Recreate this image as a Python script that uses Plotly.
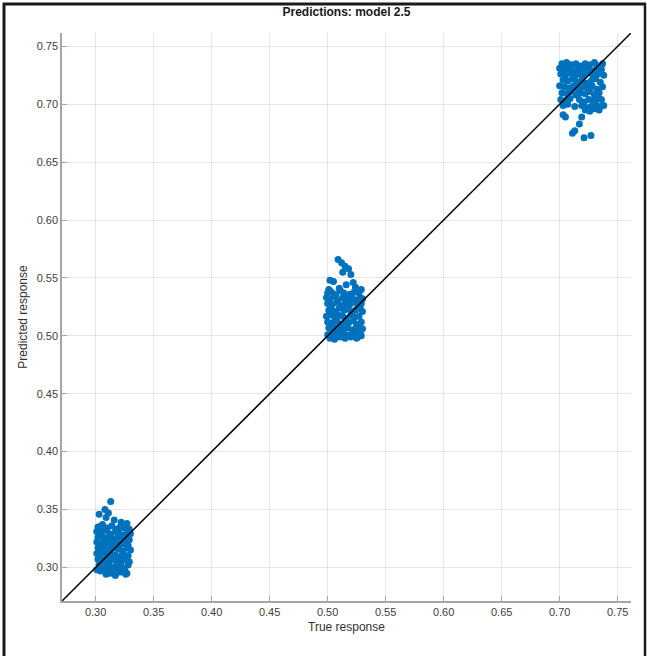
import plotly.graph_objects as go

# ---- data ----
x_low = [0.313, 0.308, 0.311, 0.303, 0.309, 0.316, 0.322, 0.327, 0.305,
         0.302, 0.306, 0.310, 0.314, 0.318, 0.321, 0.325, 0.329,
         0.301, 0.304, 0.308, 0.312, 0.317, 0.320, 0.324, 0.328, 0.330,
         0.302, 0.306, 0.309, 0.313, 0.315, 0.319, 0.323, 0.326, 0.329,
         0.301, 0.303, 0.307, 0.311, 0.314, 0.318, 0.322, 0.325, 0.328,
         0.302, 0.305, 0.308, 0.312, 0.316, 0.320, 0.323, 0.327, 0.330,
         0.301, 0.304, 0.307, 0.310, 0.313, 0.317, 0.321, 0.324, 0.328,
         0.302, 0.305, 0.309, 0.312, 0.315, 0.319, 0.322, 0.326, 0.329,
         0.303, 0.306, 0.310, 0.314, 0.318, 0.321, 0.325, 0.328,
         0.301, 0.304, 0.308, 0.311, 0.316, 0.320, 0.323, 0.327,
         0.309, 0.313, 0.317, 0.322, 0.326]
y_low = [0.357, 0.350, 0.347, 0.346, 0.343, 0.341, 0.339, 0.338, 0.336,
         0.335, 0.337, 0.334, 0.336, 0.333, 0.335, 0.334, 0.333,
         0.331, 0.330, 0.332, 0.329, 0.331, 0.330, 0.328, 0.331, 0.329,
         0.326, 0.327, 0.325, 0.327, 0.324, 0.326, 0.325, 0.327, 0.324,
         0.322, 0.320, 0.323, 0.321, 0.319, 0.322, 0.320, 0.321, 0.319,
         0.317, 0.316, 0.318, 0.315, 0.317, 0.316, 0.314, 0.317, 0.315,
         0.312, 0.311, 0.313, 0.310, 0.312, 0.311, 0.309, 0.312, 0.310,
         0.307, 0.306, 0.308, 0.305, 0.307, 0.306, 0.304, 0.307, 0.305,
         0.302, 0.301, 0.303, 0.300, 0.302, 0.301, 0.299, 0.302,
         0.298, 0.297, 0.299, 0.297, 0.298, 0.296, 0.297, 0.295,
         0.294, 0.295, 0.293, 0.296, 0.294]

x_mid = [0.509, 0.512, 0.515, 0.518, 0.513, 0.520, 0.502, 0.505, 0.510,
         0.522, 0.524, 0.516, 0.501,
         0.500, 0.503, 0.507, 0.511, 0.514, 0.519, 0.523, 0.527, 0.529,
         0.499, 0.502, 0.506, 0.509, 0.513, 0.517, 0.521, 0.525, 0.528, 0.530,
         0.500, 0.504, 0.508, 0.512, 0.515, 0.519, 0.522, 0.526, 0.529,
         0.501, 0.503, 0.507, 0.510, 0.514, 0.518, 0.521, 0.524, 0.528, 0.530,
         0.499, 0.502, 0.506, 0.509, 0.513, 0.516, 0.520, 0.523, 0.527,
         0.500, 0.504, 0.508, 0.511, 0.515, 0.518, 0.522, 0.525, 0.529,
         0.501, 0.503, 0.507, 0.510, 0.514, 0.517, 0.521, 0.524, 0.527, 0.530,
         0.500, 0.505, 0.509, 0.512, 0.516, 0.519, 0.523, 0.526, 0.528,
         0.502, 0.506, 0.511, 0.515, 0.520, 0.525, 0.529]
y_mid = [0.566, 0.563, 0.560, 0.558, 0.555, 0.553, 0.548, 0.547, 0.541,
         0.546, 0.542, 0.544, 0.540,
         0.537, 0.538, 0.536, 0.539, 0.537, 0.536, 0.538, 0.537, 0.540,
         0.533, 0.532, 0.534, 0.531, 0.533, 0.532, 0.534, 0.531, 0.533, 0.532,
         0.528, 0.527, 0.529, 0.526, 0.528, 0.527, 0.529, 0.526, 0.528,
         0.522, 0.523, 0.521, 0.524, 0.522, 0.523, 0.521, 0.522, 0.524, 0.521,
         0.517, 0.518, 0.516, 0.518, 0.517, 0.515, 0.518, 0.516, 0.517,
         0.512, 0.511, 0.513, 0.510, 0.512, 0.511, 0.513, 0.510, 0.512,
         0.507, 0.506, 0.507, 0.505, 0.506, 0.507, 0.505, 0.506, 0.508, 0.506,
         0.501, 0.502, 0.500, 0.502, 0.501, 0.500, 0.501, 0.499, 0.502,
         0.498, 0.497, 0.499, 0.498, 0.499, 0.498, 0.500]

x_high = [0.702, 0.706, 0.710, 0.714, 0.718, 0.722, 0.726, 0.730, 0.734, 0.737,
          0.700, 0.704, 0.708, 0.712, 0.716, 0.720, 0.724, 0.728, 0.732, 0.736,
          0.701, 0.705, 0.709, 0.713, 0.717, 0.721, 0.725, 0.729, 0.733, 0.738,
          0.703, 0.707, 0.711, 0.715, 0.719, 0.723, 0.727, 0.731, 0.735,
          0.700, 0.704, 0.708, 0.712, 0.716, 0.720, 0.724, 0.728, 0.732, 0.737,
          0.702, 0.706, 0.710, 0.714, 0.718, 0.722, 0.726, 0.730, 0.734,
          0.701, 0.705, 0.709, 0.717, 0.721, 0.725, 0.729, 0.733, 0.736,
          0.703, 0.707, 0.713, 0.719, 0.723, 0.727, 0.731, 0.735, 0.738,
          0.722, 0.726, 0.730, 0.734,
          0.703, 0.705, 0.719, 0.717, 0.713, 0.711, 0.721, 0.727]
y_high = [0.735, 0.736, 0.734, 0.735, 0.733, 0.735, 0.734, 0.736, 0.733, 0.735,
          0.731, 0.730, 0.732, 0.729, 0.731, 0.730, 0.732, 0.729, 0.731, 0.730,
          0.726, 0.725, 0.727, 0.724, 0.726, 0.725, 0.727, 0.724, 0.726, 0.725,
          0.721, 0.720, 0.722, 0.719, 0.721, 0.718, 0.720, 0.722, 0.719,
          0.716, 0.715, 0.714, 0.716, 0.713, 0.715, 0.714, 0.716, 0.713, 0.715,
          0.710, 0.709, 0.711, 0.708, 0.710, 0.709, 0.711, 0.708, 0.710,
          0.704, 0.703, 0.705, 0.704, 0.702, 0.704, 0.703, 0.705, 0.704,
          0.699, 0.700, 0.698, 0.699, 0.697, 0.698, 0.700, 0.698, 0.699,
          0.695, 0.694, 0.696, 0.695,
          0.691, 0.689, 0.689, 0.683, 0.677, 0.675, 0.671, 0.673]

x_pred = x_low + x_mid + x_high
y_pred = y_low + y_mid + y_high

axis_range = [0.2710, 0.7615]
tick_vals = [0.30, 0.35, 0.40, 0.45, 0.50, 0.55, 0.60, 0.65, 0.70, 0.75]
tick_text = ["0.30", "0.35", "0.40", "0.45", "0.50", "0.55", "0.60", "0.65", "0.70", "0.75"]

W, H = 647, 656
ml, mr, mt, mb = 62, 16, 33, 55
pw, ph = W - ml - mr, H - mt - mb

def px_x(p):
    return (p - ml) / pw

def px_y(p):
    return 1 - (p - mt) / ph

fig = go.Figure()
fig.add_trace(go.Scatter(
    x=x_pred, y=y_pred, mode="markers",
    marker=dict(color="#0072BD", size=7, line=dict(width=0)),
    showlegend=False, hoverinfo="x+y"))
fig.add_trace(go.Scatter(
    x=axis_range, y=axis_range, mode="lines",
    line=dict(color="#000000", width=1.5),
    showlegend=False, hoverinfo="skip"))

axis_common = dict(
    range=axis_range, tickvals=tick_vals, ticktext=tick_text,
    showgrid=True, gridcolor="#e6e6e6", gridwidth=1,
    zeroline=False, showline=True, linecolor="#a6a6a6", linewidth=1.5,
    ticks="inside", ticklen=5, tickcolor="#a6a6a6",
    tickfont=dict(family="Liberation Sans, Arial, sans-serif", size=11, color="#404040"),
    mirror=False, automargin=False,
)

fig.update_layout(
    width=W, height=H,
    margin=dict(l=ml, r=mr, t=mt, b=mb, autoexpand=False),
    paper_bgcolor="white", plot_bgcolor="white",
    title=dict(text="<b>Predictions: model 2.5</b>", x=346.5 / W, xanchor="center",
               xref="container", yref="container",
               y=1 - 12 / H, yanchor="middle", automargin=False,
               font=dict(family="Liberation Sans, Arial, sans-serif", size=12, color="#1a1a1a")),
    xaxis=dict(**axis_common,
               title=dict(text="True response", standoff=6,
                          font=dict(family="Liberation Sans, Arial, sans-serif", size=12, color="#333333"))),
    yaxis=dict(**axis_common,
               title=dict(text="Predicted response", standoff=6,
                          font=dict(family="Liberation Sans, Arial, sans-serif", size=12, color="#333333"))),
    shapes=[
        dict(type="line", xref="paper", yref="paper",
             x0=px_x(4), x1=px_x(4), y0=px_y(3), y1=px_y(660),
             line=dict(color="#1a1a1a", width=3)),
        dict(type="line", xref="paper", yref="paper",
             x0=px_x(3), x1=px_x(646), y0=px_y(4), y1=px_y(4),
             line=dict(color="#1a1a1a", width=3)),
        dict(type="line", xref="paper", yref="paper",
             x0=px_x(645), x1=px_x(645), y0=px_y(3), y1=px_y(660),
             line=dict(color="#1a1a1a", width=2.5)),
    ],
)

fig.write_html("out.html",
               config={"displayModeBar": False},
               post_script="document.body.style.margin='0';document.body.style.overflow='hidden';")
